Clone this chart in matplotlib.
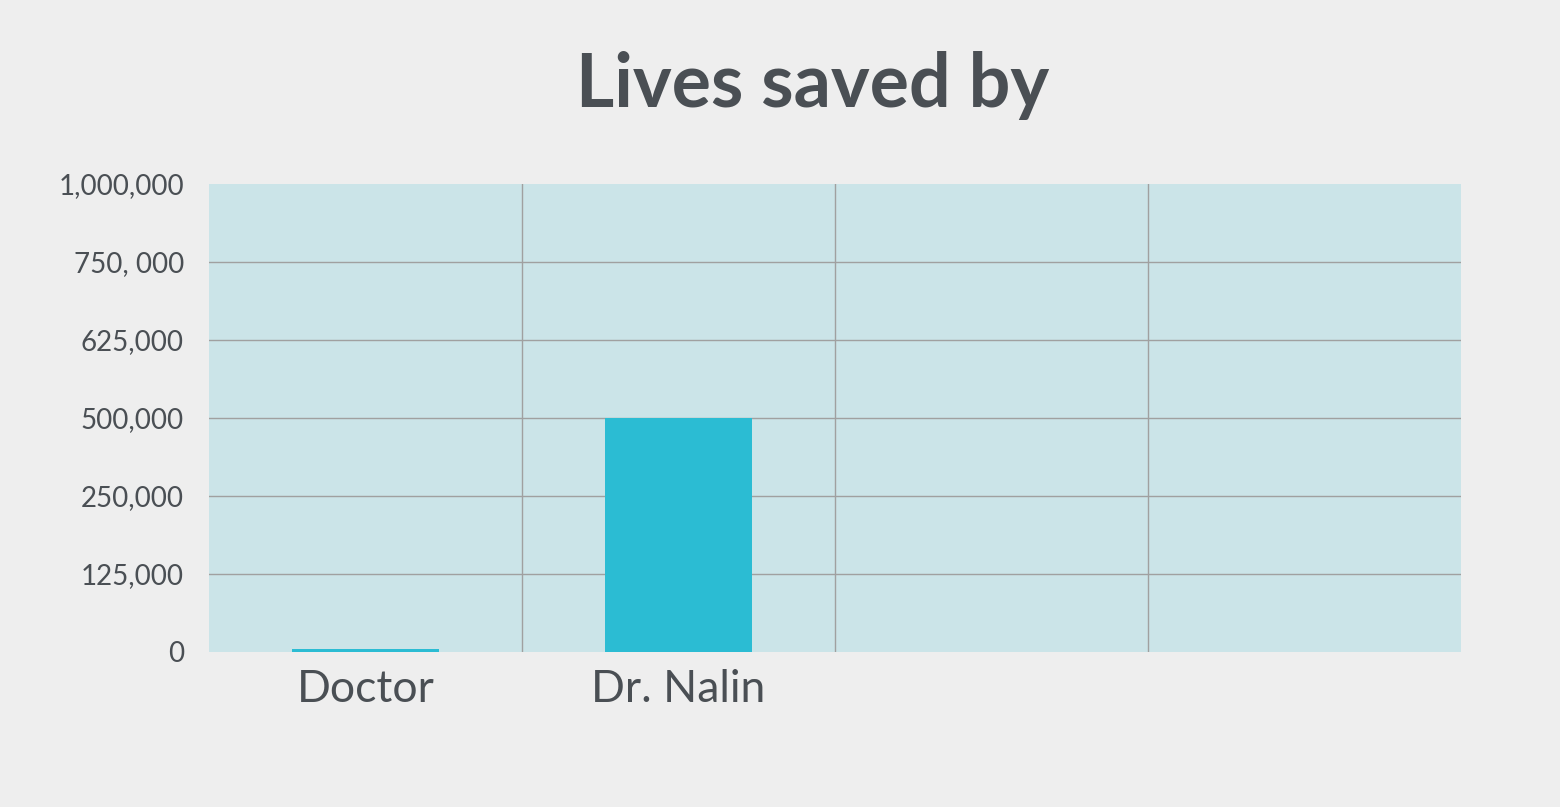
import numpy as np
import matplotlib.pyplot as plt

# data
categories = ['Doctor', 'Dr. Nalin', '', '']
lives = [5000, 500000, 0, 0]
tick_values = [0, 125000, 250000, 500000, 625000, 750000, 1000000]
tick_labels = ['0', '125,000', '250,000', '500,000', '625,000', '750, 000', '1,000,000']

tick_pos = np.arange(len(tick_values))


# uneven axis: each tick step gets the same height
def forward(v):
    return np.interp(v, tick_values, tick_pos)


def inverse(p):
    return np.interp(p, tick_pos, tick_values)


text_col = '#4a4f54'
plt.rcParams['font.family'] = ['Lato', 'DejaVu Sans']

fig = plt.figure(figsize=(15.6, 8.07), dpi=100, facecolor='#eeeeee')
ax = fig.add_axes([209/1560, 1 - 652/807, (1461-209)/1560, (652-184)/807])
ax.set_facecolor('#cbe4e8')

x = np.arange(len(categories))
ax.bar(x, lives, width=0.47, color='#2bbcd3', zorder=3)

ax.set_yscale('function', functions=(forward, inverse))
ax.set_ylim(0, 1000000)
ax.set_xlim(-0.5, len(categories) - 0.5)

ax.set_yticks(tick_values)
ax.set_yticklabels(tick_labels, fontsize=20, color=text_col)
ax.set_xticks(x)
ax.set_xticklabels(categories, fontsize=32, color=text_col)
ax.tick_params(length=0)
ax.tick_params(axis='y', pad=18)
ax.tick_params(axis='x', pad=12)

# grid lines between columns and at ticks
for t in tick_values[1:-1]:
    ax.axhline(t, color='#a0a0a0', linewidth=1, zorder=1)
for xb in x[:-1] + 0.5:
    ax.axvline(xb, color='#a0a0a0', linewidth=1, zorder=1)

for s in ax.spines.values():
    s.set_visible(False)

fig.text(813/1560, 1 - 86/807, 'Lives saved by', fontsize=53, fontweight='bold',
         color=text_col, ha='center', va='center')

fig.savefig('out.png', dpi=100, facecolor=fig.get_facecolor())
